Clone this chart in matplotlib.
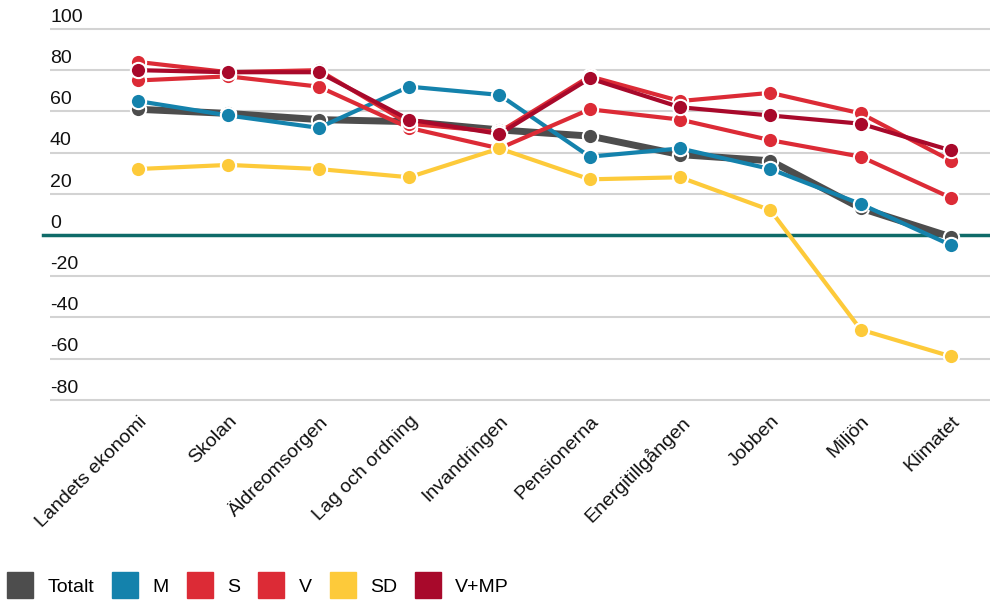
import matplotlib
matplotlib.use("Agg")
import matplotlib.pyplot as plt
from matplotlib.lines import Line2D
from matplotlib.transforms import blended_transform_factory

plt.rcParams['font.family'] = ['Liberation Sans', 'DejaVu Sans']

categories = ["Landets ekonomi", "Skolan", "Äldreomsorgen", "Lag och ordning",
              "Invandringen", "Pensionerna", "Energitillgången", "Jobben",
              "Miljön", "Klimatet"]

totalt = [61, 59, 56, 55, 51, 48, 39, 36, 13, -1]
m_vals = [65, 58, 52, 72, 68, 38, 42, 32, 15, -5]
s_vals = [75, 77, 72, 52, 42, 61, 56, 46, 38, 18]
v_vals = [84, 79, 80, 54, 50, 77, 65, 69, 59, 36]
sd_vals = [32, 34, 32, 28, 42, 27, 28, 12, -46, -59]
vmp_vals = [80, 79, 79, 56, 49, 76, 62, 58, 54, 41]

yticks = [100, 80, 60, 40, 20, 0, -20, -40, -60, -80]

series = [
    ("Totalt", totalt, "#4d4d4d", 5),
    ("M", m_vals, "#1482ac", 3),
    ("S", s_vals, "#dc2b36", 3),
    ("V", v_vals, "#dc2b36", 3),
    ("SD", sd_vals, "#fdca3a", 3),
    ("V+MP", vmp_vals, "#a8092b", 3),
]

fig = plt.figure(figsize=(9.9, 6.03), dpi=100)
ax = fig.add_axes([50 / 990, 1 - 410 / 603, 940 / 990, 397.5 / 603])

x = list(range(len(categories)))

# grid
for v in yticks:
    if v != 0:
        ax.axhline(v, color="#d3d3d3", lw=1.5, zorder=0)
ax.axhline(0, color="#0f6b69", lw=2.5, zorder=1, xmin=-0.007, clip_on=False)

# series
for i, (name, vals, col, lw) in enumerate(series):
    ax.plot(x, vals, color=col, lw=lw, marker="o", markersize=11,
            markerfacecolor=col, markeredgecolor="white", markeredgewidth=1.5,
            zorder=2 + i)

# y tick labels sit above the lines
tr = blended_transform_factory(ax.transAxes, ax.transData)
for v in yticks:
    ax.text(0, v + 1.5, str(v), transform=tr, ha="left", va="bottom",
            fontsize=14, color="#111111")

ax.set_xlim(-0.974, 9.43)
ax.set_ylim(-85, 108)
ax.set_yticks([])
ax.set_xticks(x)
ax.set_xticklabels(categories, rotation=45, ha="right", rotation_mode="anchor",
                   fontsize=14, color="#111111")
ax.tick_params(axis="x", length=0, pad=2)
for sp in ax.spines.values():
    sp.set_visible(False)

handles = [Line2D([], [], ls="none", marker="s", markersize=19,
                  markerfacecolor=col, markeredgecolor=col)
           for _, _, col, _ in series]
labels = [name for name, _, _, _ in series]
fig.legend(handles, labels, loc="lower left", bbox_to_anchor=(-0.003, -0.008),
           ncol=6, frameon=False, fontsize=14, handlelength=1.2,
           handletextpad=0.8, columnspacing=1.0, borderaxespad=0.2)

fig.savefig("out.png", dpi=100, facecolor="white")
